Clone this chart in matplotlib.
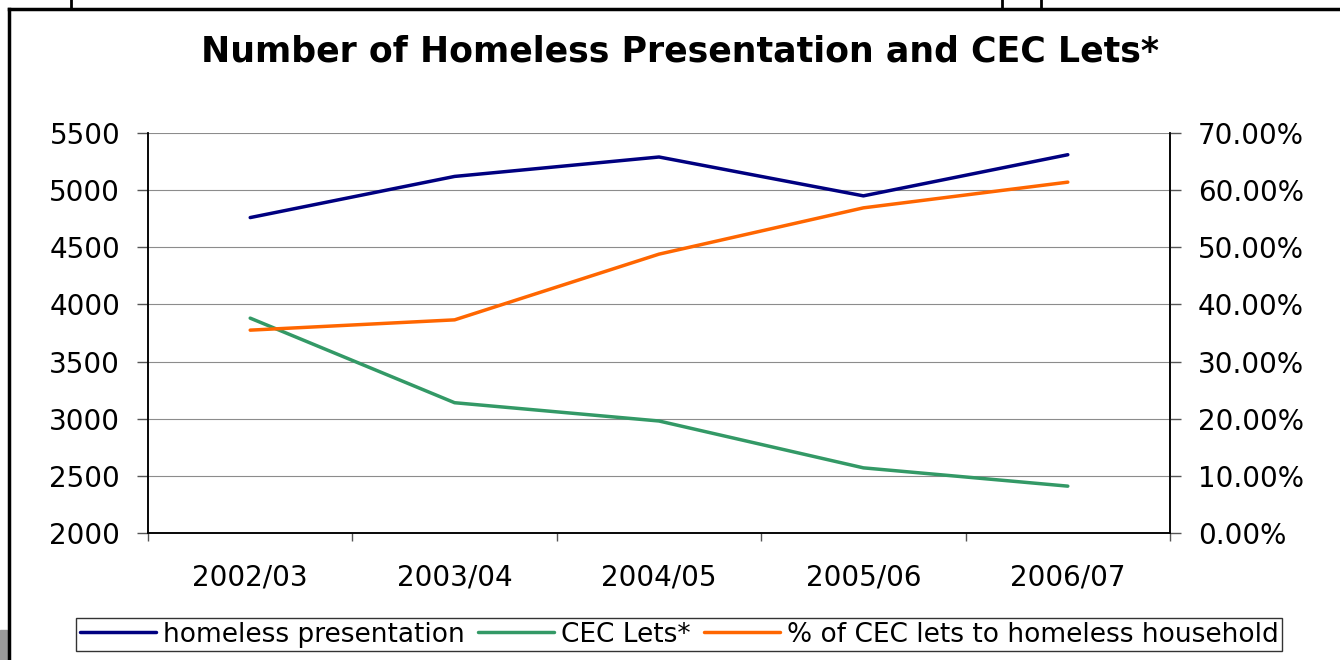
import matplotlib
matplotlib.use("Agg")
import matplotlib.pyplot as plt
from matplotlib.lines import Line2D
from matplotlib.ticker import FuncFormatter, FixedLocator
from matplotlib.patches import Rectangle

years = ["2002/03", "2003/04", "2004/05", "2005/06", "2006/07"]
homeless = [4760, 5120, 5290, 4950, 5310]
cec_lets = [3880, 3140, 2980, 2570, 2410]
pct_homeless = [0.355, 0.373, 0.488, 0.569, 0.614]

title = "Number of Homeless Presentation and CEC Lets*"
labels = ["homeless presentation", "CEC Lets*", "% of CEC lets to homeless household"]
colors = ["#000080", "#339966", "#FF6600"]

plt.rcParams['font.family'] = ['DejaVu Sans']

W, H = 1340, 660
fig = plt.figure(figsize=(W / 100, H / 100), dpi=100)
fig.patch.set_facecolor("white")

ax = fig.add_axes([148 / W, 1 - 533 / H, (1170 - 148) / W, (533 - 133) / H])
ax2 = ax.twinx()

x = list(range(len(years)))
l1, = ax.plot(x, homeless, color=colors[0], lw=2.5, solid_capstyle='round')
l2, = ax.plot(x, cec_lets, color=colors[1], lw=2.5, solid_capstyle='round')
l3, = ax2.plot(x, pct_homeless, color=colors[2], lw=2.5, solid_capstyle='round')

ax.set_xlim(-0.5, len(years) - 0.5)
ax.set_ylim(2000, 5500)
ax.set_yticks(range(2000, 5501, 500))
ax.yaxis.grid(True, color="#8c8c8c", lw=0.8)
ax.set_axisbelow(True)
ax.set_xticks(x)
ax.set_xticklabels(years)
ax.xaxis.set_minor_locator(FixedLocator([i - 0.5 for i in range(len(years) + 1)]))
ax.tick_params(axis='x', which='major', length=0, pad=22, labelsize=20)
ax.tick_params(axis='x', which='minor', length=6, width=1, color="#555555")
ax.tick_params(axis='y', length=8, width=1, pad=12, labelsize=20, color="#555555")

ax2.set_ylim(0, 0.7)
ax2.set_yticks([i / 10 for i in range(8)])
ax2.yaxis.set_major_formatter(FuncFormatter(lambda v, p: f"{v * 100:.2f}%"))
ax2.tick_params(axis='y', length=8, width=1, pad=12, labelsize=20, color="#555555")

for a in (ax, ax2):
    a.spines['top'].set_visible(False)
    for s in ('left', 'right', 'bottom'):
        a.spines[s].set_color("black")
        a.spines[s].set_linewidth(1.1)

fig.text(680 / W, 1 - 51 / H, title, ha='center', va='center', fontsize=25, fontweight='bold')

leg = fig.legend([l1, l2, l3], labels, loc='center', bbox_to_anchor=(679 / W, 1 - 634.5 / H),
                 ncol=3, frameon=True, fancybox=False, fontsize=19, handlelength=2.9,
                 columnspacing=0.5, handletextpad=0.25, borderpad=0.12, borderaxespad=0)
leg.get_frame().set_edgecolor("black")
leg.get_frame().set_linewidth(1.0)

# page frame of the slide and fragments of the slide above
tr = fig.transFigure
fig.add_artist(Line2D([9 / W, 1], [1 - 9 / H, 1 - 9 / H], color="black", lw=2.5, transform=tr))
fig.add_artist(Line2D([9 / W, 9 / W], [0, 1 - 9 / H], color="black", lw=2.5, transform=tr))
for xp in (71, 1002, 1041):
    fig.add_artist(Line2D([xp / W, xp / W], [1 - 9 / H, 1], color="black", lw=2.0, transform=tr))
fig.add_artist(Rectangle((0, 0), 7 / W, 30 / H, color="#9a9a9a", transform=tr))

fig.savefig("out.png", dpi=100)
